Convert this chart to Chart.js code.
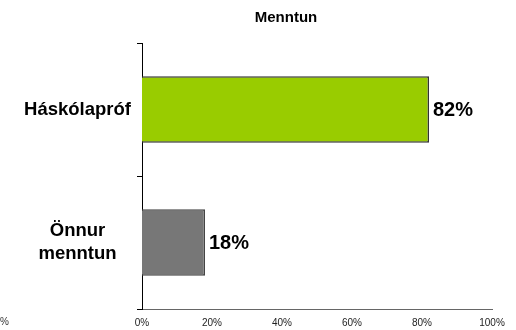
<!DOCTYPE html>
<html><head><meta charset="utf-8">
<script src="https://cdn.jsdelivr.net/npm/chart.js@4/dist/chart.umd.min.js"></script>
<style>html,body{margin:0;padding:0;background:#fff}#wrap{width:516px;height:330px}</style>
</head><body><div id="wrap"><canvas id="c" width="516" height="330"></canvas></div>
<script>
const title = "Menntun";
const categories = [["Háskólapróf"], ["Önnur", "menntun"]];
const values = [82, 18];
const barColors = ["#99CC00", "#777777"];
const borderColors = ["#333333", "#444444"];
const xTicks = [0, 20, 40, 60, 80, 100];

const FONT = "'Liberation Sans', Arial, sans-serif";

const extras = {
  id: 'extras',
  afterDatasetsDraw(chart) {
    const ctx = chart.ctx;
    const meta = chart.getDatasetMeta(0);
    ctx.save();
    ctx.font = "bold 20px " + FONT;
    ctx.fillStyle = "#000";
    ctx.textAlign = "left";
    ctx.textBaseline = "middle";
    meta.data.forEach((bar, i) => {
      ctx.fillText(values[i] + "%", bar.x + 4, bar.y + 1);
    });
    ctx.restore();
  },
  afterDraw(chart) {
    const ctx = chart.ctx;
    ctx.save();
    ctx.font = "bold 15px " + FONT;
    ctx.fillStyle = "#000";
    ctx.textAlign = "center";
    ctx.textBaseline = "middle";
    ctx.fillText(title, 286, 18);
    ctx.font = "10px " + FONT;
    ctx.fillStyle = "#333";
    ctx.textAlign = "right";
    ctx.fillText("0%", 9, 322);
    ctx.restore();
  }
};

new Chart(document.getElementById('c'), {
  type: 'bar',
  data: {
    labels: categories,
    datasets: [{
      data: values,
      backgroundColor: barColors,
      borderColor: borderColors,
      borderWidth: 1.5,
      categoryPercentage: 0.5,
      barPercentage: 1.0
    }]
  },
  options: {
    indexAxis: 'y',
    responsive: false,
    animation: false,
    devicePixelRatio: 1,
    layout: { padding: { top: 43, right: 24, bottom: 0, left: 0 } },
    plugins: { legend: { display: false }, tooltip: { enabled: false }, title: { display: false } },
    scales: {
      x: {
        min: 0, max: 100,
        afterBuildTicks(s) { s.ticks = xTicks.map(v => ({ value: v })); },
        grid: { display: false, drawTicks: false },
        border: { display: true, color: '#666', width: 1 },
        ticks: {
          padding: 8,
          color: '#222',
          font: { family: FONT, size: 10 },
          callback: v => v + '%'
        },
        afterFit(s) { s.height = 21; }
      },
      y: {
        grid: { display: true, drawOnChartArea: false, drawTicks: true, tickLength: 5, color: '#000', offset: true },
        border: { display: true, color: '#000', width: 1 },
        ticks: {
          crossAlign: 'center',
          padding: 6,
          color: '#000',
          font: { family: FONT, size: 18.5, weight: 'bold' },
          lineHeight: 1.15
        },
        afterFit(s) { s.width = 142; }
      }
    }
  },
  plugins: [extras]
});
</script>
</body></html>
